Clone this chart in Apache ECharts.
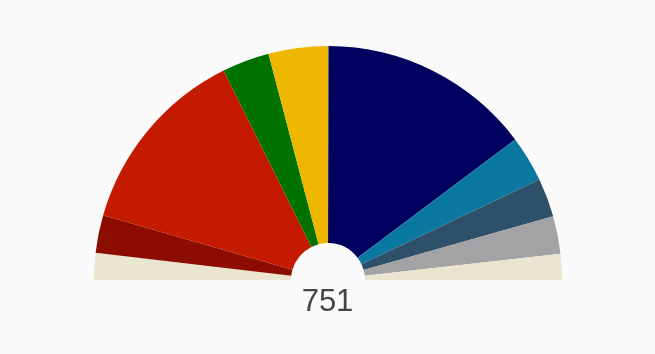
<!DOCTYPE html>
<html>
<head>
<meta charset="utf-8">
<script src="https://cdn.jsdelivr.net/npm/echarts@6/dist/echarts.min.js"></script>
<style>
html,body{margin:0;padding:0;background:#fafafa;}
#chart{width:655px;height:354px;}
</style>
</head>
<body>
<div id="chart"></div>
<script>
// Groups ordered left to right around the hemicycle
const groups = ['Others (left)', 'Left', 'Socialists', 'Greens', 'Liberals', 'EPP', 'Conservatives', 'Right', 'Non-attached', 'Others (right)'];
const seats = [28, 39, 198, 49, 62, 221, 48, 40, 39, 27];
const colors = ['#ebe4cf', '#8c0c00', '#c41a00', '#007200', '#edb700', '#00005e', '#0b78a2', '#2e5169', '#a3a3a5', '#ebe4cf'];

const total = seats.reduce((a, b) => a + b, 0);

const data = groups.map((g, i) => ({
  name: g,
  value: seats[i],
  itemStyle: { color: colors[i] }
}));
// hidden lower half
data.push({
  name: '_hidden',
  value: total,
  itemStyle: { color: 'rgba(0,0,0,0)' },
  label: { show: false },
  emphasis: { disabled: true },
  tooltip: { show: false }
});

const chart = echarts.init(document.getElementById('chart'));
chart.setOption({
  backgroundColor: '#fafafa',
  animation: false,
  series: [{
    type: 'pie',
    center: [328, 280],
    radius: [37, 234],
    startAngle: 180,
    clockwise: true,
    label: { show: false },
    labelLine: { show: false },
    silent: true,
    data: data
  }],
  graphic: [{
    type: 'text',
    left: 'center',
    top: 287,
    style: {
      text: String(total),
      fontSize: 31,
      fontFamily: 'Liberation Sans, Arial, sans-serif',
      fill: '#444444'
    }
  }]
});
</script>
</body>
</html>
